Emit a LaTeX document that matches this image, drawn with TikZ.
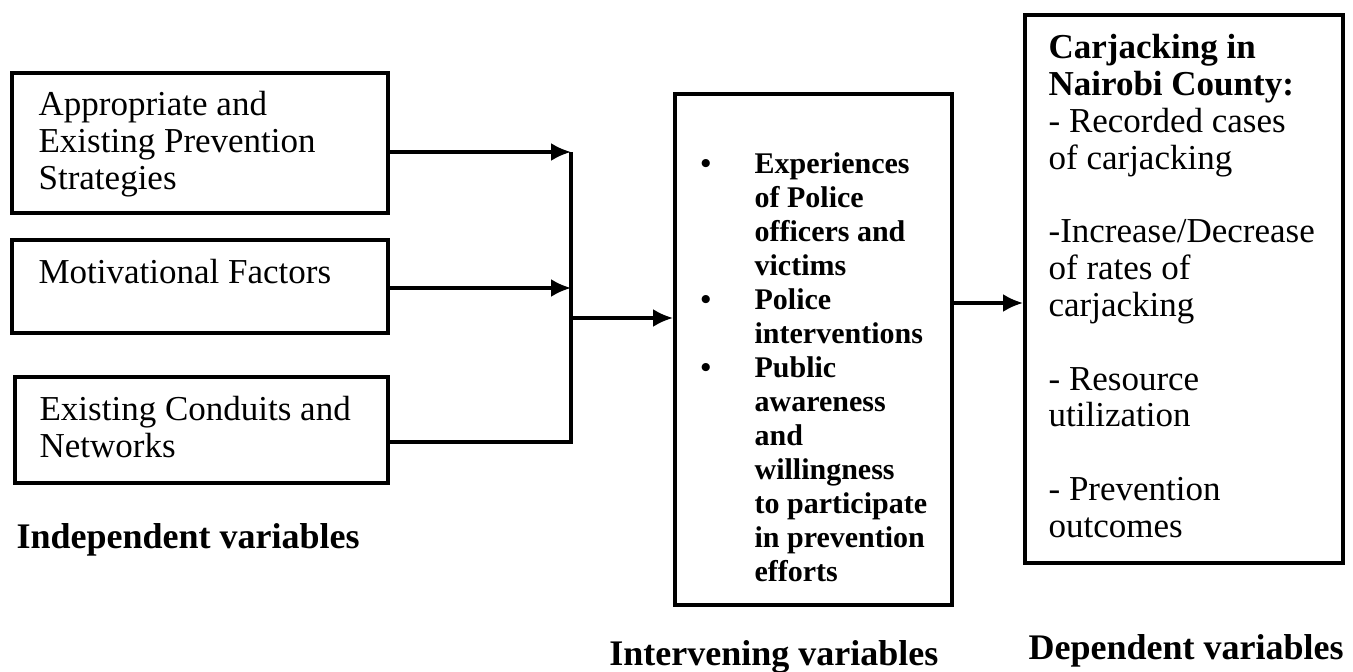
\documentclass[tikz,border=0pt]{standalone}
\usepackage{fontspec}
\setmainfont{Liberation Serif}
\usetikzlibrary{arrows.meta,positioning}
\newcommand{\vbul}{\makebox[27pt][l]{\textbullet}}
\newcommand{\vgap}{\hspace*{27pt}}

\begin{document}
\begin{tikzpicture}[x=0.5pt, y=-0.5pt, line width=1.6pt,
    >={Latex[length=10pt,width=9pt]},
    txt/.style={align=left, anchor=north west, inner sep=0pt, font={\fontsize{17.5}{18.5}\selectfont}},
    lbl/.style={inner sep=0pt, font={\fontsize{18}{20}\selectfont\bfseries}}]
   \useasboundingbox (0,0) rectangle (1353,672);
   % boxes
   \begin{scope}[every node/.style={draw, line width=2pt, rectangle, inner sep=0pt}]
    \node (iv1) [minimum width=188pt, minimum height=70pt] at (200,143) {};
    \node (iv2) [minimum width=188pt, minimum height=46.5pt] at (200,286.5) {};
    \node (iv3) [minimum width=186.5pt, minimum height=53pt] at (201.5,430) {};
    \node (mv) [minimum width=138.5pt, minimum height=255.5pt] at (813.5,349.5) {};
    \node (dv) [minimum width=159pt, minimum height=274pt] at (1184,289) {};
   \end{scope}
   % texts
   \node (iv1t) [txt] at (37,90) {Appropriate and\\Existing Prevention\\Strategies};
   \node (iv2t) [txt] at (37,258) {Motivational Factors};
   \node (iv3t) [txt] at (38,395) {Existing Conduits and\\Networks};
   \node (mvt) [txt, font={\fontsize{15}{17}\selectfont\bfseries}] at (699,151)
     {\vbul Experiences\\\vgap of Police\\\vgap officers and\\\vgap victims\\
      \vbul Police\\\vgap interventions\\
      \vbul Public\\\vgap awareness\\\vgap and\\\vgap willingness\\\vgap to participate\\\vgap in prevention\\\vgap efforts};
   \node (dvt) [txt, font={\fontsize{17.5}{18.4}\selectfont}] at (1047,33)
     {\textbf{Carjacking in}\\\textbf{Nairobi County:}\\- Recorded cases\\of carjacking\\[18.4pt]
      -Increase/Decrease\\of rates of\\carjacking\\[18.4pt]
      - Resource\\utilization\\[18.4pt]
      - Prevention\\outcomes};
   \node (ivl) [lbl, anchor=west] at (15,540) {Independent variables};
   \node (mvl) [lbl, anchor=east] at (940,657) {Intervening variables};
   \node (dvl) [lbl, anchor=west] at (1027,651) {Dependent variables};
   % connectors
   \coordinate (j1) at (571,152);
   \coordinate (j2) at (571,288);
   \coordinate (j3) at (571,442);
   \coordinate (jm) at (571,318);
   \coordinate (jd) at (988,303);
   \draw[->] (iv1.east |- j1) -- (j1);
   \draw[->] (iv2.east |- j2) -- (j2);
   \draw (iv3.east |- j3) -- (j3) -- (j1);
   \draw[->] (jm) -- (mv.west |- jm);
   \draw[->] (mv.east |- jd) -- (dv.west |- jd);
\end{tikzpicture}
\end{document}
